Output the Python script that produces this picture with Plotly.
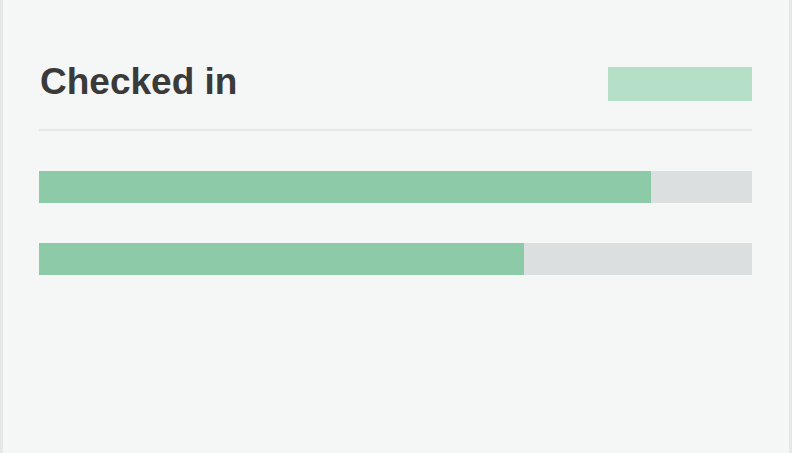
import plotly.graph_objects as go

# Data
categories = ["Row 1", "Row 2"]
checked_share = [0.858, 0.68]
track_total = [1.0, 1.0]
title_text = "Checked in"

W, H = 800, 453

def px_x(x):
    return x / W

def px_y(y):
    return 1 - y / H

fig = go.Figure()
fig.add_trace(go.Bar(
    y=categories, x=track_total, orientation="h",
    marker=dict(color="#dcdfdf", line=dict(width=0)),
    width=0.45, hoverinfo="skip", showlegend=False,
))
fig.add_trace(go.Bar(
    y=categories, x=checked_share, orientation="h",
    marker=dict(color="#8dcaa8", line=dict(width=0)),
    width=0.45, showlegend=False,
))

shapes = [
    # card
    dict(type="rect", xref="paper", yref="paper",
         x0=px_x(1.5), x1=px_x(790.5), y0=-0.05, y1=1.05,
         fillcolor="#f5f6f6", line=dict(color="#e6e8e8", width=3), layer="below"),
    # placeholder badge
    dict(type="rect", xref="paper", yref="paper",
         x0=px_x(608), x1=px_x(752), y0=px_y(101), y1=px_y(67),
         fillcolor="#b5dfc7", line=dict(width=0), layer="below"),
    # divider
    dict(type="line", xref="paper", yref="paper",
         x0=px_x(39), x1=px_x(752), y0=px_y(130), y1=px_y(130),
         line=dict(color="#e5e8e8", width=2), layer="below"),
]

top = 186.5 - 36
bottom = 258.5 + 36

fig.update_layout(
    width=W, height=H,
    margin=dict(l=0, r=0, t=0, b=0),
    paper_bgcolor="#ffffff",
    plot_bgcolor="rgba(0,0,0,0)",
    barmode="overlay",
    bargap=0,
    shapes=shapes,
    xaxis=dict(domain=[px_x(39), px_x(752)], range=[0, 1], visible=False, fixedrange=True),
    yaxis=dict(domain=[px_y(bottom), px_y(top)], autorange="reversed",
               visible=False, fixedrange=True),
    annotations=[dict(
        text="<b>" + title_text + "</b>", xref="paper", yref="paper",
        x=px_x(38), y=px_y(81), xanchor="left", yanchor="middle",
        showarrow=False,
        font=dict(family="Arial, Liberation Sans, sans-serif", size=37, color="#3a3a3a"),
    )],
)

fig.write_html("out.html")
